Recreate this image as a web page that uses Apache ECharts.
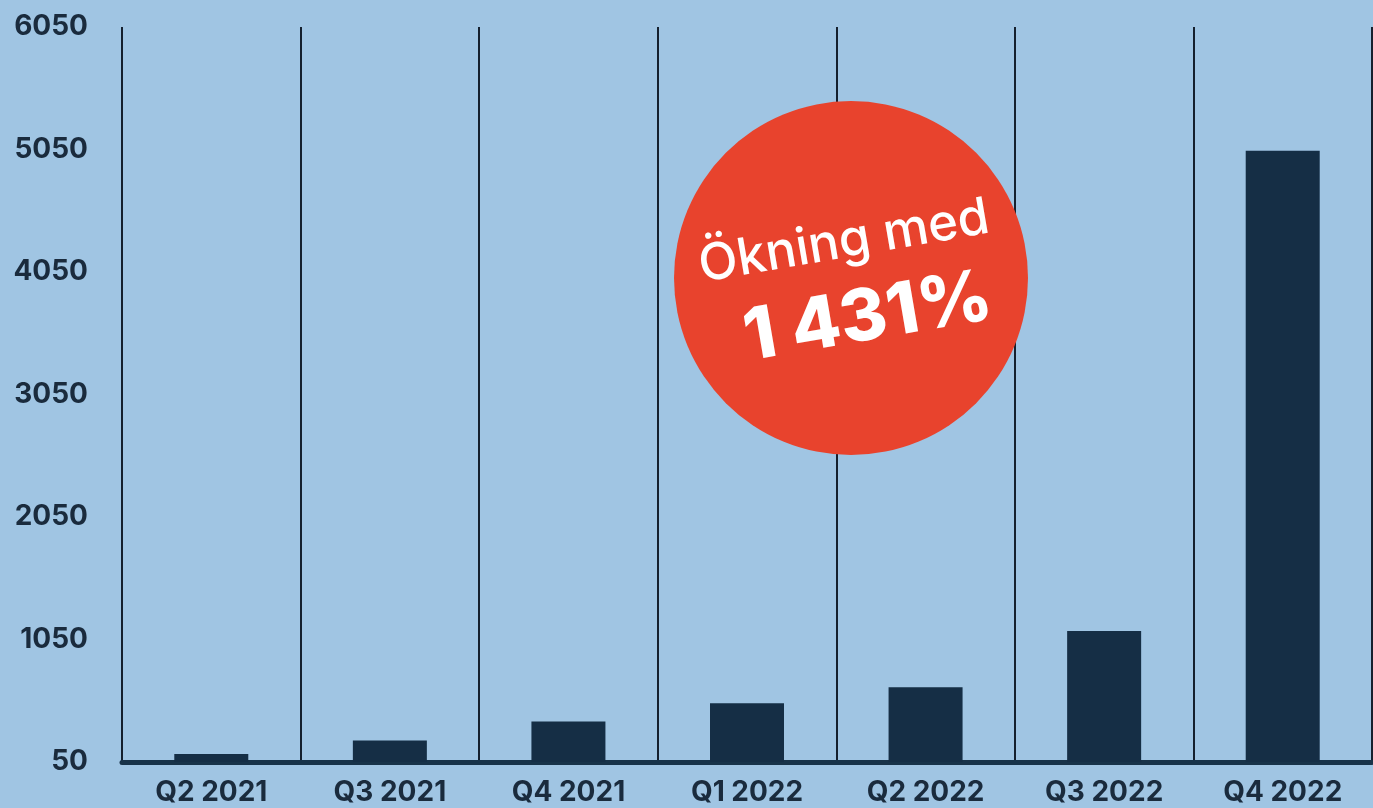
<!DOCTYPE html>
<html>
<head>
<meta charset="utf-8">
<script src="https://cdn.jsdelivr.net/npm/echarts@6/dist/echarts.min.js"></script>
<style>
html,body{margin:0;padding:0;background:#a0c5e3;}
#c{width:1373px;height:808px;}
</style>
</head>
<body>
<div id="c"></div>
<script>
const categories = ['Q2 2021','Q3 2021','Q4 2021','Q1 2022','Q2 2022','Q3 2022','Q4 2022'];
const values = [115, 225, 380, 530, 660, 1120, 5040];
const yTicks = [50, 1050, 2050, 3050, 4050, 5050, 6050];
const badgeLine1 = 'Ökning med';
const badgeLine2 = '1 431%';

const chart = echarts.init(document.getElementById('c'));
chart.setOption({
  backgroundColor: '#a0c5e3',
  animation: false,
  grid: {left: 122, right: 1, top: 27, bottom: 46, containLabel: false},
  xAxis: {
    type: 'category',
    data: categories,
    boundaryGap: true,
    axisLine: {show: true, lineStyle: {color: '#183349', width: 5}},
    axisTick: {show: false},
    splitLine: {show: true, lineStyle: {color: '#15202e', width: 2}},
    axisLabel: {color: '#1a2b3d', fontFamily: 'Inter', fontWeight: 700, fontSize: 28, margin: 17, interval: 0}
  },
  yAxis: {
    type: 'value',
    min: yTicks[0],
    max: yTicks[yTicks.length - 1],
    interval: 1000,
    axisLine: {show: false},
    axisTick: {show: false},
    splitLine: {show: false},
    axisLabel: {color: '#1a2b3d', fontFamily: 'Inter', fontWeight: 700, fontSize: 28, margin: 34,
      formatter: function (v) { return String(v); }}
  },
  series: [{
    type: 'bar',
    data: values,
    barWidth: 74,
    itemStyle: {color: '#152e45'},
    z: 1
  }],
  graphic: [
    {type: 'circle', shape: {cx: 851, cy: 278, r: 177}, style: {fill: '#e8432d'}, z: 100},
    {type: 'text', x: 844, y: 242, rotation: 0.17, z: 101,
     style: {text: badgeLine1, x: 0, y: 0, fill: '#ffffff', font: '500 51px Inter', align: 'center', verticalAlign: 'middle'}},
    {type: 'text', x: 868, y: 318, rotation: 0.17, z: 101,
     style: {text: badgeLine2, x: 0, y: 0, fill: '#ffffff', font: '800 72px Inter', align: 'center', verticalAlign: 'middle'}}
  ]
});
</script>
</body>
</html>
